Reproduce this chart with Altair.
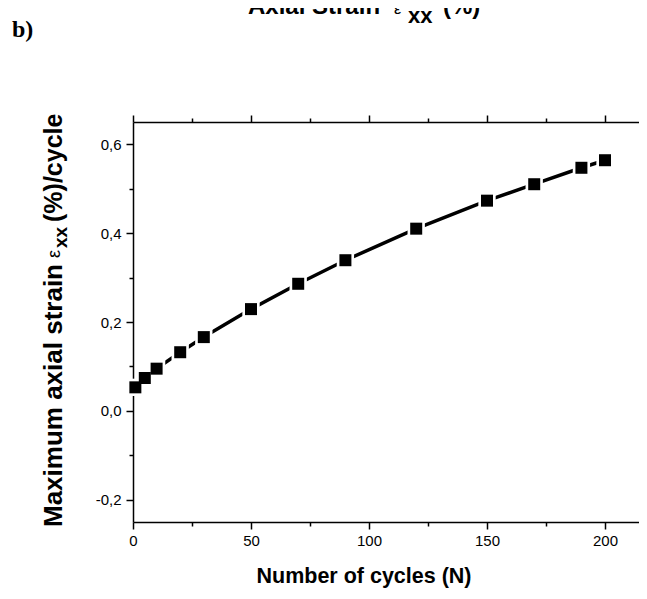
import altair as alt
import pandas as pd

# ---- data ----
cycles = [1, 5, 10, 20, 30, 50, 70, 90, 120, 150, 170, 190, 200]
strain = [0.053, 0.074, 0.095, 0.132, 0.166, 0.229, 0.286, 0.339, 0.410, 0.473, 0.510, 0.547, 0.564]

x_ticks = [0, 25, 50, 75, 100, 125, 150, 175, 200]
y_ticks = [-0.2, -0.1, 0.0, 0.1, 0.2, 0.3, 0.4, 0.5, 0.6]
x_domain = [0, 214.4]
y_domain = [-0.25, 0.65]

x_title = "Number of cycles (N)"
y_title_parts = ["Maximum axial strain", "\u03b5", "xx", "(%)/cycle"]
top_title_parts = ["Axial Strain", "\u03b5", "xx", "(%)"]
panel_label = "b)"

df = pd.DataFrame({"N": cycles, "strain": strain})
one = pd.DataFrame({"k": [0]})

# plot origin in page coords = (133, 122)
OX, OY = 133, 122
W, H = 506, 400

xscale = alt.Scale(domain=x_domain, nice=False, zero=False)
yscale = alt.Scale(domain=y_domain, nice=False, zero=False)

x_major = "datum.value % 50 == 0"
y_major = "abs(round(datum.value*10)) % 2 == 0"

axis_common = dict(
    domainColor="black", domainWidth=1.5, tickColor="black", tickWidth=1.5,
    grid=False, labelFont="Liberation Sans", labelFontSize=15, labelColor="black",
    title=None,
)

bottom_axis = alt.Axis(
    orient="bottom", values=x_ticks, labelPadding=4,
    tickSize={"condition": {"test": x_major, "value": 7}, "value": 4},
    labelExpr=f"{x_major} ? format(datum.value, 'd') : ''",
    labelFlush=False, labelOverlap=False,
    **axis_common,
)
top_axis = alt.Axis(
    orient="top", values=x_ticks, labels=False,
    tickSize={"condition": {"test": x_major, "value": 7}, "value": 4},
    **axis_common,
)
left_axis = alt.Axis(
    orient="left", values=y_ticks, labelPadding=5,
    tickSize={"condition": {"test": y_major, "value": 7}, "value": 4},
    labelExpr=f"{y_major} ? replace(replace(format(datum.value, '.1f'), '.', ','), '\u2212', '-') : ''",
    labelFlush=False, labelOverlap=False,
    **axis_common,
)

base = alt.Chart(df)
line = base.mark_line(color="black", strokeWidth=3.5).encode(
    x=alt.X("N:Q", scale=xscale, axis=bottom_axis),
    y=alt.Y("strain:Q", scale=yscale, axis=left_axis),
)
halo = base.mark_point(
    shape="square", filled=True, fill="white", size=300, opacity=1, strokeWidth=0,
).encode(
    x=alt.X("N:Q", scale=xscale, axis=top_axis),
    y=alt.Y("strain:Q", scale=yscale, axis=None),
)
points = base.mark_point(
    shape="square", filled=True, fill="black", size=144, opacity=1, strokeWidth=0,
).encode(
    x=alt.X("N:Q", scale=xscale, axis=None),
    y=alt.Y("strain:Q", scale=yscale, axis=None),
)


def txt(text, px, py, size, weight="bold", font="Liberation Sans", angle=0, align="left"):
    return alt.Chart(one).mark_text(
        text=text, font=font, fontSize=size, fontWeight=weight, color="black",
        angle=angle, align=align, baseline="alphabetic",
    ).encode(x=alt.value(px - OX), y=alt.value(py - OY))


texts = [
    # x title
    txt(x_title, 364, 583, 21.5, align="center"),
    # y title (rotated, reading upward)
    txt(y_title_parts[0], 62, 527, 26, angle=270),
    txt(y_title_parts[1], 60, 258, 18, weight="normal", angle=270),
    txt(y_title_parts[2], 67, 248, 19, angle=270),
    txt(y_title_parts[3], 62, 222, 25, angle=270),
    # top (cropped) title
    txt(top_title_parts[0], 248, 14, 24),
    txt(top_title_parts[1], 394, 14, 16, weight="normal"),
    txt(top_title_parts[2], 408, 23, 22),
    txt(top_title_parts[3], 443, 14, 24),
    # panel label
    txt(panel_label, 12, 37, 24, font="Liberation Serif"),
]

chart = alt.layer(line, halo, points, *texts).resolve_axis(
    x="independent", y="independent"
).properties(
    width=W, height=H,
    autosize=alt.AutoSizeParams(type="none"),
    padding={"left": OX - 8, "top": OY - 8, "right": 0, "bottom": 68},
).configure_view(stroke=None)

chart.save("out.html", embed_options={"renderer": "svg", "actions": False})
